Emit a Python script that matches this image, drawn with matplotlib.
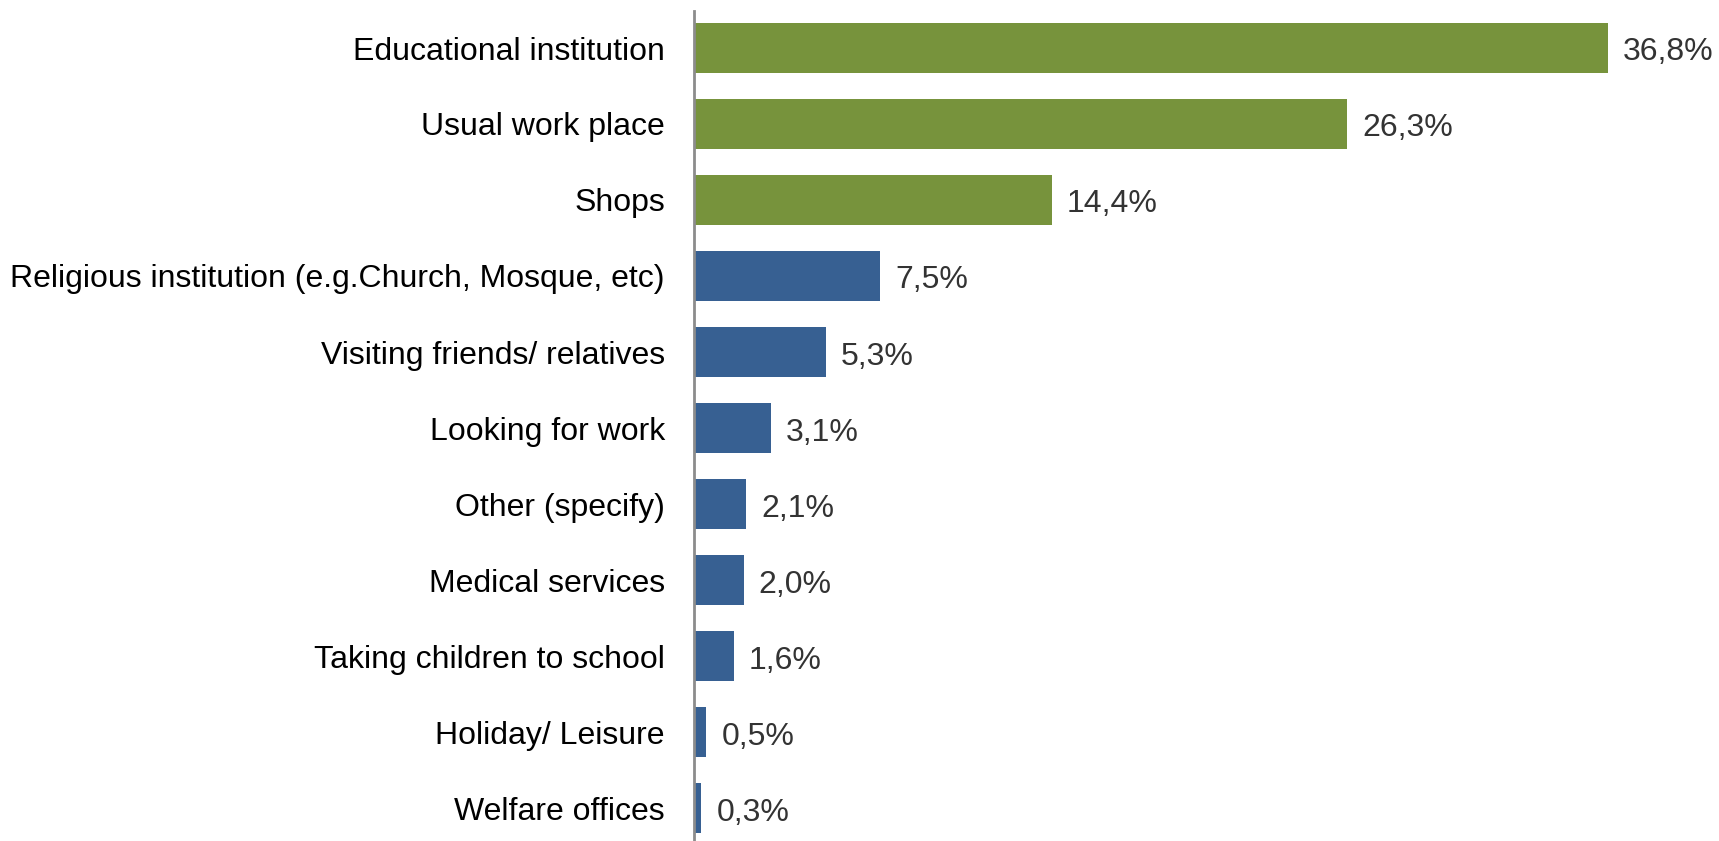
import numpy as np
import matplotlib.pyplot as plt

plt.rcParams['font.family'] = ['Liberation Sans', 'DejaVu Sans']

categories = ['Educational institution', 'Usual work place', 'Shops',
              'Religious institution (e.g.Church, Mosque, etc)',
              'Visiting friends/ relatives', 'Looking for work',
              'Other (specify)', 'Medical services',
              'Taking children to school', 'Holiday/ Leisure',
              'Welfare offices']
values = [36.8, 26.3, 14.4, 7.5, 5.3, 3.1, 2.1, 2.0, 1.6, 0.5, 0.3]
labels = ['36,8%', '26,3%', '14,4%', '7,5%', '5,3%', '3,1%', '2,1%',
          '2,0%', '1,6%', '0,5%', '0,3%']

green = '#77933C'
blue = '#376092'
colors = [green] * 3 + [blue] * (len(values) - 3)

W, H = 1719, 841
fig = plt.figure(figsize=(W / 100, H / 100), dpi=100)
ax = fig.add_axes([694 / W, 0, 914 / W, 830 / H])

y = np.arange(len(values))
ax.barh(y, values, height=0.66, color=colors)
ax.set_xlim(0, 36.8)
ax.set_ylim(len(values) - 1 + 33 / 76, -37 / 76)

# value labels just right of each bar end
for yi, v, lab in zip(y, values, labels):
    ax.annotate(lab, (v, yi), xytext=(15, -1), textcoords='offset pixels',
                va='center_baseline', ha='left', fontsize=23,
                color='#333333', annotation_clip=False)

ax.set_yticks(y)
ax.set_yticklabels(categories, fontsize=23, color='black')
ax.tick_params(axis='y', length=0, pad=21)
ax.set_xticks([])
for s in ['top', 'right', 'bottom']:
    ax.spines[s].set_visible(False)
ax.spines['left'].set_color('#8c8c8c')
ax.spines['left'].set_linewidth(2)

fig.savefig('out.png', dpi=100)
